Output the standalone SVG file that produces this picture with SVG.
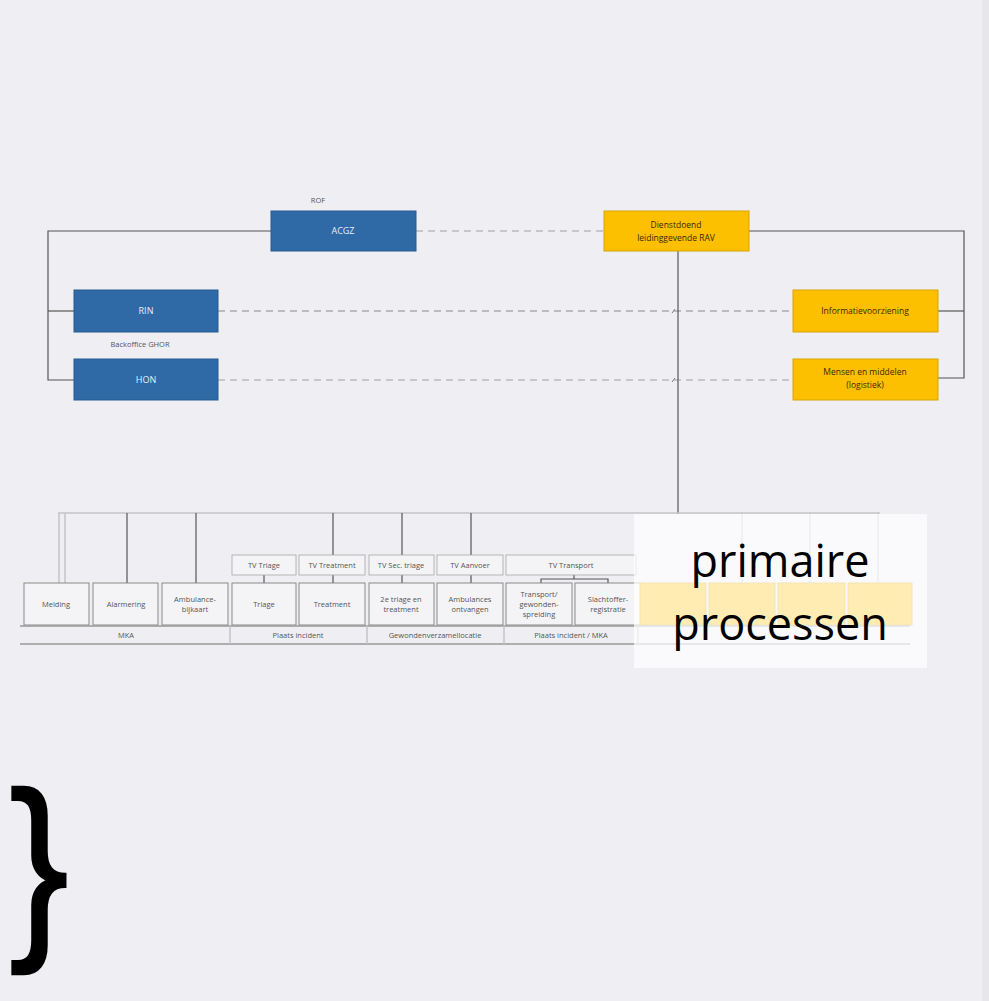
<svg xmlns="http://www.w3.org/2000/svg" width="989" height="1001" viewBox="0 0 989 1001">
<style>
.bg{fill:#efeff3}
.blue{fill:#2f6aa6;stroke:#275b91;stroke-width:1}
.yel{fill:#fcc000;stroke:#d9a400;stroke-width:1}
.bt{font-family:"Open Sans","Liberation Sans",sans-serif;font-size:9px;fill:#e9eef6;text-anchor:middle}
.yt{font-family:"Open Sans","Liberation Sans",sans-serif;font-size:8.5px;fill:#3a2a00;text-anchor:middle}
.st{font-family:"Open Sans","Liberation Sans",sans-serif;font-size:7.5px;fill:#555;text-anchor:middle}
.pb{fill:#f4f4f6;stroke:#8a8a8a;stroke-width:1}
.fb{fill:#f4f4f6;stroke:#a8a8a8;stroke-width:0.8}
.solid{stroke:#555;stroke-width:1.2;fill:none}
.dash{stroke:#8a8a8a;stroke-width:1.2;stroke-dasharray:7 5;fill:none}
.dash2{stroke:#a0a0a0;stroke-width:1;stroke-dasharray:7 5;fill:none}
.lt{stroke:#c4c4c8;stroke-width:1.5;fill:none}
.dk{stroke:#555;stroke-width:1.2;fill:none}
.ln{stroke:#999;stroke-width:1.6;fill:none}
.big{font-family:"Open Sans","Liberation Sans",sans-serif;fill:#000;text-anchor:middle}
.brace{font-family:"Liberation Sans",Arial,sans-serif;fill:#000;stroke:#000;stroke-width:2.5;text-anchor:middle}
</style>
<rect class="bg" x="0" y="0" width="989" height="1001"/>
<rect x="982" y="0" width="7" height="1001" fill="#e7e7eb"/>

<g id="connectors">
  <polyline class="solid" points="271,231 48,231 48,380 74,380"/>
  <line class="solid" x1="48" y1="311" x2="74" y2="311"/>
  <polyline class="solid" points="749,231 964,231 964,378 938,378"/>
  <line class="solid" x1="938" y1="311" x2="964" y2="311"/>
  <line class="dash2" x1="416" y1="231" x2="604" y2="231"/>
  <line class="dash" x1="218" y1="311" x2="793" y2="311"/>
  <line class="dash2" x1="218" y1="380" x2="793" y2="380"/>
  <line class="solid" x1="678" y1="251" x2="678" y2="514"/>
  <path d="M672,313 l3,-4 M672,382 l3,-4" stroke="#777" stroke-width="1" fill="none"/>
  <line class="lt" x1="58" y1="513" x2="880" y2="513"/>
  <line class="lt" x1="59" y1="513" x2="59" y2="583"/>
  <line class="lt" x1="65" y1="513" x2="65" y2="583"/>
  <line class="dk" x1="127" y1="513" x2="127" y2="583"/>
  <line class="dk" x1="196" y1="513" x2="196" y2="583"/>
  <line class="dk" x1="333" y1="513" x2="333" y2="555"/>
  <line class="dk" x1="402" y1="513" x2="402" y2="555"/>
  <line class="dk" x1="471" y1="513" x2="471" y2="555"/>
  <line class="dk" x1="264" y1="575" x2="264" y2="583"/>
  <line class="dk" x1="333" y1="575" x2="333" y2="583"/>
  <line class="dk" x1="402" y1="575" x2="402" y2="583"/>
  <line class="dk" x1="471" y1="575" x2="471" y2="583"/>
  <polyline class="dk" points="541,583 541,579 608,579 608,583"/>
  <line class="dk" x1="574" y1="575" x2="574" y2="579"/>
</g>

<g id="n-rof"><text class="st" x="318" y="203">ROF</text></g>
<g id="n-acgz"><rect class="blue" x="271" y="211" width="145" height="40"/><text class="bt" x="343" y="234">ACGZ</text></g>
<g id="n-ravlead"><rect class="yel" x="604" y="211" width="145" height="40"/><text class="yt" x="676" y="228">Dienstdoend</text><text class="yt" x="676" y="241">leidinggevende RAV</text></g>
<g id="n-rin"><rect class="blue" x="74" y="290" width="144" height="42"/><text class="bt" x="146" y="314">RIN</text></g>
<g id="n-backoffice"><text class="st" x="140" y="347">Backoffice GHOR</text></g>
<g id="n-hon"><rect class="blue" x="74" y="359" width="144" height="41"/><text class="bt" x="146" y="383">HON</text></g>
<g id="n-info"><rect class="yel" x="793" y="290" width="145" height="42"/><text class="yt" x="865" y="314">Informatievoorziening</text></g>
<g id="n-mensen"><rect class="yel" x="793" y="359" width="145" height="41"/><text class="yt" x="865" y="375">Mensen en middelen</text><text class="yt" x="865" y="388">(logistiek)</text></g>

<g id="n-tv-triage"><rect class="fb" x="232" y="555" width="64" height="20"/><text class="st" x="264" y="568">TV Triage</text></g>
<g id="n-tv-treatment"><rect class="fb" x="299" y="555" width="66" height="20"/><text class="st" x="332" y="568">TV Treatment</text></g>
<g id="n-tv-sec"><rect class="fb" x="369" y="555" width="65" height="20"/><text class="st" x="401" y="568">TV Sec. triage</text></g>
<g id="n-tv-aanvoer"><rect class="fb" x="437" y="555" width="66" height="20"/><text class="st" x="470" y="568">TV Aanvoer</text></g>
<g id="n-tv-transport"><rect class="fb" x="506" y="555" width="130" height="20"/><text class="st" x="571" y="568">TV Transport</text></g>

<g id="n-melding"><rect class="pb" x="24" y="583" width="65" height="42"/><text class="st" x="56" y="607">Melding</text></g>
<g id="n-alarmering"><rect class="pb" x="93" y="583" width="65" height="42"/><text class="st" x="126" y="607">Alarmering</text></g>
<g id="n-ambulance"><rect class="pb" x="162" y="583" width="66" height="42"/><text class="st" x="195" y="602">Ambulance-</text><text class="st" x="195" y="612">bijkaart</text></g>
<g id="n-triage"><rect class="pb" x="232" y="583" width="64" height="42"/><text class="st" x="264" y="607">Triage</text></g>
<g id="n-treatment"><rect class="pb" x="299" y="583" width="66" height="42"/><text class="st" x="332" y="607">Treatment</text></g>
<g id="n-2etriage"><rect class="pb" x="369" y="583" width="65" height="42"/><text class="st" x="401" y="602">2e triage en</text><text class="st" x="401" y="612">treatment</text></g>
<g id="n-ontvangen"><rect class="pb" x="437" y="583" width="66" height="42"/><text class="st" x="470" y="602">Ambulances</text><text class="st" x="470" y="612">ontvangen</text></g>
<g id="n-transport"><rect class="pb" x="506" y="583" width="66" height="42"/><text class="st" x="539" y="597">Transport/</text><text class="st" x="539" y="607">gewonden-</text><text class="st" x="539" y="617">spreiding</text></g>
<g id="n-registratie"><rect class="pb" x="575" y="583" width="66" height="42"/><text class="st" x="608" y="602">Slachtoffer-</text><text class="st" x="608" y="612">registratie</text></g>

<g id="faded">
  <rect x="640" y="583" width="66" height="42" fill="#fcc000" stroke="#d9a400"/>
  <rect x="709" y="583" width="66" height="42" fill="#fcc000" stroke="#d9a400"/>
  <rect x="778" y="583" width="67" height="42" fill="#fcc000" stroke="#d9a400"/>
  <rect x="848" y="583" width="64" height="42" fill="#fcc000" stroke="#d9a400"/>
  <line class="lt" x1="742" y1="513" x2="742" y2="583"/>
  <line class="lt" x1="810" y1="513" x2="810" y2="583"/>
  <line class="lt" x1="878" y1="513" x2="878" y2="583"/>
</g>

<g id="groups">
  <line class="ln" x1="20" y1="626" x2="910" y2="626"/>
  <line class="ln" x1="20" y1="644" x2="910" y2="644"/>
  <line class="lt" x1="230" y1="626" x2="230" y2="644"/>
  <line class="lt" x1="367" y1="626" x2="367" y2="644"/>
  <line class="lt" x1="504" y1="626" x2="504" y2="644"/>
  <line class="lt" x1="638" y1="626" x2="638" y2="644"/>
  <text class="st" x="126" y="638">MKA</text>
  <text class="st" x="298" y="638">Plaats incident</text>
  <text class="st" x="435" y="638">Gewondenverzamellocatie</text>
  <text class="st" x="571" y="638">Plaats incident / MKA</text>
</g>

<g id="overlay">
  <rect x="634" y="514" width="293" height="154" fill="#ffffff" fill-opacity="0.7"/>
  <text class="big" x="780" y="577" font-size="45">primaire</text>
  <text class="big" x="780" y="640" font-size="45">processen</text>
</g>

<g id="brace">
  <text class="brace" x="0" y="932" font-size="201" transform="translate(39,0) scale(0.88,1)">}</text>
</g>
</svg>
